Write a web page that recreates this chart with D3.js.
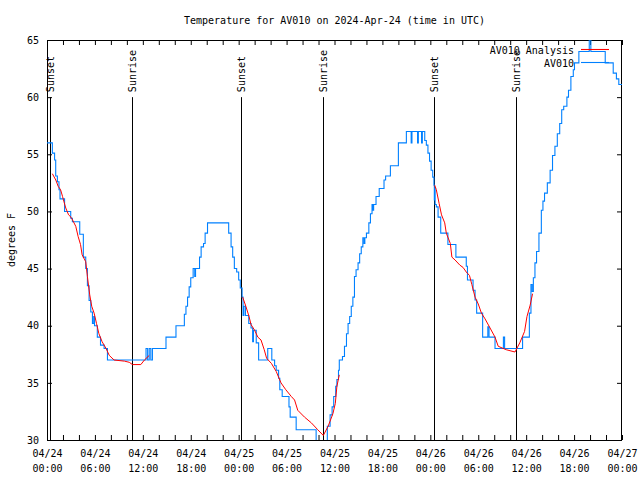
<!DOCTYPE html>
<html><head><meta charset="utf-8">
<script src="https://cdn.jsdelivr.net/npm/d3@7"></script>
<style>
body{margin:0;background:#fff}
text{font-family:"DejaVu Sans Mono",monospace;font-size:10px;fill:#000}
</style>
</head><body><svg id="c" width="640" height="480"></svg>
<script>
// ---- data (hours since 2024-04-24 00:00 UTC, degrees F) ----
const title = "Temperature for AV010 on 2024-Apr-24 (time in UTC)";
const yLabel = "degrees F";
const xTickHours = [0,6,12,18,24,30,36,42,48,54,60,66,72];
const xTickLabels = ["04/24 00:00","04/24 06:00","04/24 12:00","04/24 18:00","04/25 00:00","04/25 06:00","04/25 12:00","04/25 18:00","04/26 00:00","04/26 06:00","04/26 12:00","04/26 18:00","04/27 00:00"];
const xMinorHours = d3.range(0,73,2);
const yTicks = [30,35,40,45,50,55,60,65];
const sunEventHours = [0.4,10.65,24.35,34.6,48.4,58.7];
const sunEventLabels = ["Sunset","Sunrise","Sunset","Sunrise","Sunset","Sunrise"];
const sunLineTop = 60;
const seriesNames = ["AV010 Analysis","AV010"];

const obsHours = [0,0.67,0.95,1.09,1.3,1.5,1.63,2.2,2.97,3.18,4.1,4.55,4.85,5.06,5.27,5.48,5.69,5.85,5.95,6.3,6.7,7.15,7.57,12.4,12.6,12.8,13.0,13.2,14.9,16.15,17.2,17.4,17.6,17.8,18.0,18.3,18.5,18.6,19.1,19.3,19.6,19.8,20.1,22.75,23.05,23.25,23.46,23.75,24.0,24.2,24.43,24.55,24.65,24.85,25.26,25.55,25.75,25.85,26.2,26.5,27.64,28.15,28.5,28.7,29.0,29.15,29.45,30.3,30.45,31.2,33.7,35.1,35.45,35.7,35.9,36.15,36.3,36.5,36.6,37.0,37.25,37.5,37.7,37.9,38.1,38.3,38.5,38.7,38.95,39.15,39.35,39.55,39.7,39.8,40.0,40.3,40.5,40.7,40.8,40.9,41.2,41.6,42.2,42.4,43.0,44.0,45.0,45.6,45.7,46.4,46.5,46.9,47.0,47.3,47.5,47.7,47.9,48.1,48.3,48.45,48.5,48.55,48.6,48.75,48.97,49.3,50.2,51.2,52.5,52.65,53.35,53.6,53.8,54.55,55.2,55.35,56.1,57.15,57.3,59.55,60.4,60.6,60.75,60.9,61.1,61.3,61.6,61.9,62.1,62.3,62.65,63.0,63.3,63.6,63.9,64.2,64.45,64.7,65.1,65.3,65.6,65.9,66.05,66.6,67.9,68.1,69.9,70.9,71.3,71.6,72];
const obsTemps = [56,55.1,54.5,53.1,52.6,51.9,51.1,50.0,49.4,49.1,48.0,46.0,45.0,43.5,42.2,41.2,40.2,40.8,40.0,39.0,38.3,38.0,37.0,38.0,37.0,38.0,37.0,38.0,39.0,40.0,41.0,41.7,42.5,43.4,44.2,45.0,44.3,45.0,46.0,46.9,47.2,48.1,49.0,48.1,46.9,46.0,45.0,44.7,44.0,43.3,42.5,40.9,41.7,40.9,40.2,39.8,38.6,39.6,38.5,37.0,38.0,37.0,36.5,36.1,35.4,34.4,33.8,32.9,32.0,30.9,29.6,31.2,32.2,32.9,33.8,34.7,35.3,36.1,37.0,37.3,38.2,39.3,40.2,40.8,41.7,42.5,44.3,44.9,45.5,46.3,46.9,47.7,47.2,47.7,48.1,49.0,49.8,50.6,50.1,50.6,51.3,52.0,52.75,53.1,54.0,56.0,57.0,56.0,57.0,56.0,57.0,56.0,57.0,56.2,55.8,55.1,54.4,53.6,53.0,52.3,51.0,52.0,50.6,50.4,49.5,48.1,47.1,46.0,45.2,44.0,43.1,42.25,41.1,39.0,39.9,39.0,38.0,39.0,38.0,39.0,41.1,43.6,43.0,44.2,45.5,46.5,48.1,50.1,50.9,51.6,52.5,53.6,54.9,55.7,56.8,57.7,58.9,59.2,60.0,60.6,61.8,62.4,63.0,64.0,65.5,64.0,63.0,62.1,61.6,61.1,61.1];

const anaNight1Hours = [0.67,1.1,1.4,1.7,1.95,2.1,2.35,2.7,3.0,3.2,3.6,3.9,4.2,4.4,4.85,5.06,5.35,5.6,5.9,6.2,6.5,6.9,7.4,7.8,8.4,9.7,10.3,10.7,11.75,12.2,12.8];
const anaNight1Temps = [53.3,52.75,52.2,51.9,51.3,50.9,50.3,49.7,49.5,49.25,48.7,47.8,47.1,46.2,45.6,44.3,42.7,41.7,41.1,40.2,39.3,38.6,38.0,37.4,37.0,36.9,36.8,36.6,36.6,37.0,37.4];
const anaNight2Hours = [24.5,24.9,25.3,25.55,26.0,26.4,26.8,27.2,27.5,28.1,28.7,29.3,29.9,30.6,31.0,31.4,32.25,33.1,33.9,34.6,35.2,35.8,36.1,36.3,36.6];
const anaNight2Temps = [42.5,41.7,40.8,40.1,39.6,39.0,38.75,37.9,37.15,36.7,36.0,35.0,34.4,33.8,33.5,32.6,32.0,31.5,30.9,30.4,31.2,32.3,33.2,34.7,35.7];
const anaNight3Hours = [48.55,48.75,49.1,49.4,49.8,50.0,50.5,50.7,51.1,51.7,52.1,52.5,52.9,53.2,53.6,54.0,54.4,54.85,55.4,56.1,56.5,57.5,58.6,59.2,59.8,60.1,60.5,60.8];
const anaNight3Temps = [52.3,51.9,50.7,49.7,49.0,48.1,47.2,46.0,45.75,45.3,45.1,44.7,44.4,43.6,42.5,41.9,41.1,40.6,39.9,39.0,38.2,37.9,37.7,38.5,39.5,40.8,41.8,42.8];

// ---- layout ----
const L = 47, R = 622, T = 40, B = 440;
const svg = d3.select("#c");
const x = d3.scaleLinear().domain([0,72]).range([L,R]);
const y = d3.scaleLinear().domain([30,65]).range([B,T]);
const zip = (a,b) => a.map((h,i)=>[h,b[i]]);

svg.append("defs").append("clipPath").attr("id","clip")
  .append("rect").attr("x",L).attr("y",T).attr("width",R-L).attr("height",B-T);

// title
svg.append("text").attr("x",(L+R)/2).attr("y",20).attr("dy","0.35em")
  .attr("text-anchor","middle").text(title);
// y label
svg.append("text").attr("transform","translate(11,"+((T+B)/2)+") rotate(-90)")
  .attr("text-anchor","middle").attr("dy","0.35em").text(yLabel);

// tick marks via axes
const tickStyle = g => { g.select(".domain").remove(); g.selectAll("line").attr("stroke","#000"); g.selectAll("text").remove(); };
svg.append("g").attr("transform",`translate(0,${B})`)
  .call(d3.axisBottom(x).tickValues(xMinorHours).tickSize(-5).tickFormat("")).call(tickStyle);
svg.append("g").attr("transform",`translate(0,${T})`)
  .call(d3.axisTop(x).tickValues(xMinorHours).tickSize(-5).tickFormat("")).call(tickStyle);
svg.append("g").attr("transform",`translate(${L},0)`)
  .call(d3.axisLeft(y).tickValues(yTicks).tickSize(-5).tickFormat("")).call(tickStyle);
svg.append("g").attr("transform",`translate(${R},0)`)
  .call(d3.axisRight(y).tickValues(yTicks).tickSize(-5).tickFormat("")).call(tickStyle);

// labels via axes
const xl = svg.append("g").attr("transform",`translate(0,${B})`)
  .call(d3.axisBottom(x).tickValues(xTickHours).tickSize(0).tickPadding(0)
    .tickFormat((d,i)=>xTickLabels[i]));
xl.select(".domain").remove();
xl.selectAll("text").each(function(d,i){
  const parts = xTickLabels[i].split(" ");
  const t = d3.select(this).text(null).attr("y",0).attr("dy",null);
  t.append("tspan").attr("x",0).attr("y",17).text(parts[0]);
  t.append("tspan").attr("x",0).attr("y",32).text(parts[1]);
});
xl.selectAll("text").attr("font-family","DejaVu Sans Mono").attr("font-size",10);

const yl = svg.append("g").attr("transform",`translate(${L},0)`)
  .call(d3.axisLeft(y).tickValues(yTicks).tickSize(0).tickPadding(8));
yl.select(".domain").remove();
yl.selectAll("text").attr("font-family","DejaVu Sans Mono").attr("font-size",10);

// frame
svg.append("rect").attr("x",L+0.5).attr("y",T+0.5).attr("width",R-L-1).attr("height",B-T)
  .attr("fill","none").attr("stroke","#000");

// sunrise / sunset markers
const ev = svg.append("g");
sunEventHours.forEach((h,i)=>{
  ev.append("line").attr("x1",Math.round(x(h))+0.5).attr("x2",Math.round(x(h))+0.5)
    .attr("y1",y(sunLineTop)).attr("y2",B).attr("stroke","#000");
  ev.append("text").attr("transform",`translate(${x(h)+0.5},${y(sunLineTop)-5}) rotate(-90)`)
    .attr("dy","0.35em").attr("text-anchor","start").text(sunEventLabels[i]);
});

// data
const plot = svg.append("g").attr("clip-path","url(#clip)");
const lineStep = d3.line().x(d=>x(d[0])).y(d=>y(d[1])).curve(d3.curveStepAfter);
const lineLin = d3.line().x(d=>x(d[0])).y(d=>y(d[1]));
plot.append("path").datum(zip(obsHours,obsTemps)).attr("d",lineStep)
  .attr("fill","none").attr("stroke","#0080ff").attr("stroke-width",1.1);
[[anaNight1Hours,anaNight1Temps],[anaNight2Hours,anaNight2Temps],[anaNight3Hours,anaNight3Temps]].forEach(([h,t])=>{
  plot.append("path").datum(zip(h,t)).attr("d",lineLin)
    .attr("fill","none").attr("stroke","#ff0000").attr("stroke-width",1);
});

// legend
const legColors = ["#ff0000","#0080ff"];
seriesNames.forEach((n,i)=>{
  const ly = 50 + i*13;
  svg.append("text").attr("x",574).attr("y",ly).attr("dy","0.35em").attr("text-anchor","end").text(n);
  svg.append("line").attr("x1",581).attr("x2",609).attr("y1",ly-0.5).attr("y2",ly-0.5)
    .attr("stroke",legColors[i]).attr("stroke-width",1.1);
});
</script>
</body></html>
